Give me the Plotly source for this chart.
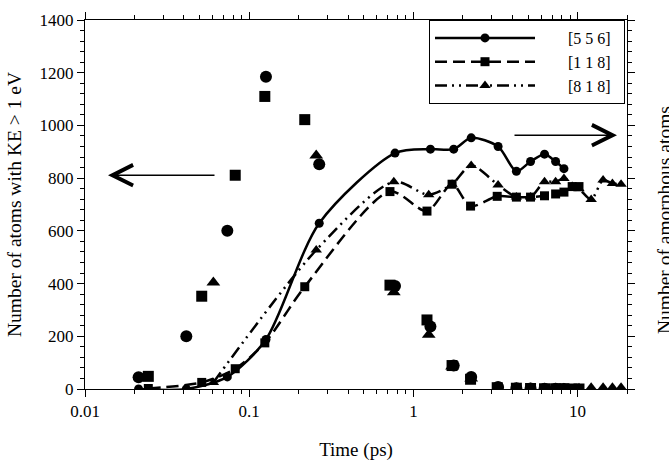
import plotly.graph_objects as go

# ---- data ----
# run [5 5 6] (circles)
t_556 = [0.0212, 0.0414, 0.0736, 0.1265, 0.267, 0.773, 1.27, 1.76, 2.25, 3.28, 4.24, 5.17, 6.29, 7.35, 8.26]
ke_556 = [45, 200, 600, 1185, 853, 391, 237, 89, 46, 8, 3, 2, 1, 1, 0]
am_556 = [0, 0, 46, 188, 629, 895, 910, 910, 953, 920, 826, 863, 891, 863, 836]

# run [1 1 8] (squares)
t_118 = [0.0243, 0.0514, 0.0822, 0.1245, 0.218, 0.72, 1.21, 1.72, 2.23, 3.24, 4.24, 5.17, 6.29, 7.35, 8.26, 9.27, 10.2]
ke_118 = [48, 352, 811, 1110, 1022, 394, 262, 89, 37, 5, 3, 2, 1, 1, 1, 0, 0]
am_118 = [2, 25, 77, 175, 388, 749, 675, 777, 694, 731, 728, 728, 733, 740, 747, 768, 768]

# run [8 1 8] (triangles)
t_818 = [0.0605, 0.256, 0.76, 1.24, 1.72, 2.25, 3.28, 4.24, 5.17, 6.29, 7.35, 8.26, 10.2, 12.1, 14.3, 16.3, 18.4]
ke_818 = [404, 886, 367, 206, 85, 40, 5, 3, 2, 1, 1, 1, 1, 3, 3, 3, 3]
am_818 = [25, 527, 786, 737, 777, 848, 774, 728, 728, 786, 786, 799, 760, 719, 793, 780, 777]

names = ["[5 5 6]", "[1 1 8]", "[8 1 8]"]
x_ticks = [0.01, 0.1, 1, 10]
x_ticklabels = ["0.01", "0.1", "1", "10"]
FONT = "Liberation Serif"

fig = go.Figure()

runs = [
    (t_556, ke_556, am_556, "circle", 12, 9, "solid", names[0]),
    (t_118, ke_118, am_118, "square", 11, 9, "12px,6px", names[1]),
    (t_818, ke_818, am_818, "triangle-up", 12, 10, "12px,5px,2px,5px,2px,5px", names[2]),
]

# KE scatter (no legend)
for t, ke, am, sym, s1, s2, dash, nm in runs:
    fig.add_trace(go.Scatter(
        x=t, y=ke, mode="markers", showlegend=False,
        marker=dict(symbol=sym, size=s1, color="black"),
    ))

# amorphous lines
for t, ke, am, sym, s1, s2, dash, nm in runs:
    fig.add_trace(go.Scatter(
        x=t, y=am, mode="lines+markers", name="\u00a0" * 7 + nm + "\u00a0" * 2,
        line=dict(color="black", width=2.5, dash=dash, shape="spline", smoothing=0.8),
        marker=dict(symbol=sym, size=s2, color="black"),
    ))

minor_x = [m * 10.0 ** e for e in (-2, -1, 0, 1) for m in range(2, 10) if m * 10.0 ** e < 21]

axis_common = dict(
    showline=True, linecolor="black", linewidth=1, mirror="allticks",
    ticks="outside", ticklen=7, tickcolor="black", showgrid=False, zeroline=False,
    tickfont=dict(family=FONT, size=17, color="black"),
)

fig.update_xaxes(
    type="log", range=[-2, 1.301],
    tickmode="array", tickvals=x_ticks, ticktext=x_ticklabels,
    minor=dict(tickmode="array", tickvals=minor_x, ticks="outside", ticklen=4,
               tickcolor="black", showgrid=False),
    title=dict(text="Time (ps)", font=dict(family=FONT, size=19, color="black"), standoff=22),
    **axis_common,
)
fig.update_yaxes(
    range=[0, 1400], dtick=200,
    minor=dict(ticks="outside", ticklen=4, dtick=40, tickcolor="black", showgrid=False),
    title=dict(text="Number of atoms with KE > 1 eV", font=dict(family=FONT, size=19.5, color="black"), standoff=12),
    **axis_common,
)

# right axis title (partly cut off in reference)
fig.add_annotation(
    text="Number of amorphous atoms", textangle=-90, showarrow=False,
    xref="paper", yref="paper", x=(664 - 85) / 542, y=(389 - 216) / 378,
    xanchor="center", yanchor="middle",
    font=dict(family=FONT, size=19.5, color="black"),
)

# arrows
fig.add_annotation(
    text="", xref="paper", yref="paper", x=(108 - 85) / 542, y=(389 - 170) / 378,
    ax=108, ay=0, showarrow=True, arrowhead=5, arrowwidth=1.5, arrowsize=2.7, arrowcolor="black",
)
fig.add_annotation(
    text="", xref="paper", yref="paper", x=(617 - 85) / 542, y=(389 - 129) / 378,
    ax=-104, ay=0, showarrow=True, arrowhead=5, arrowwidth=1.5, arrowsize=2.7, arrowcolor="black",
)

fig.update_layout(
    width=669, height=470,
    margin=dict(l=85, r=42, t=11, b=81),
    paper_bgcolor="white", plot_bgcolor="white",
    font=dict(family=FONT, size=15, color="black"),
    legend=dict(
        x=(429 - 85) / 542, y=1, xanchor="left", yanchor="top",
        bordercolor="black", borderwidth=1, bgcolor="white",
        itemwidth=100, font=dict(family=FONT, size=16, color="black"),
        tracegroupgap=0, itemclick=False,
    ),
)

fig.write_html("out.html")
